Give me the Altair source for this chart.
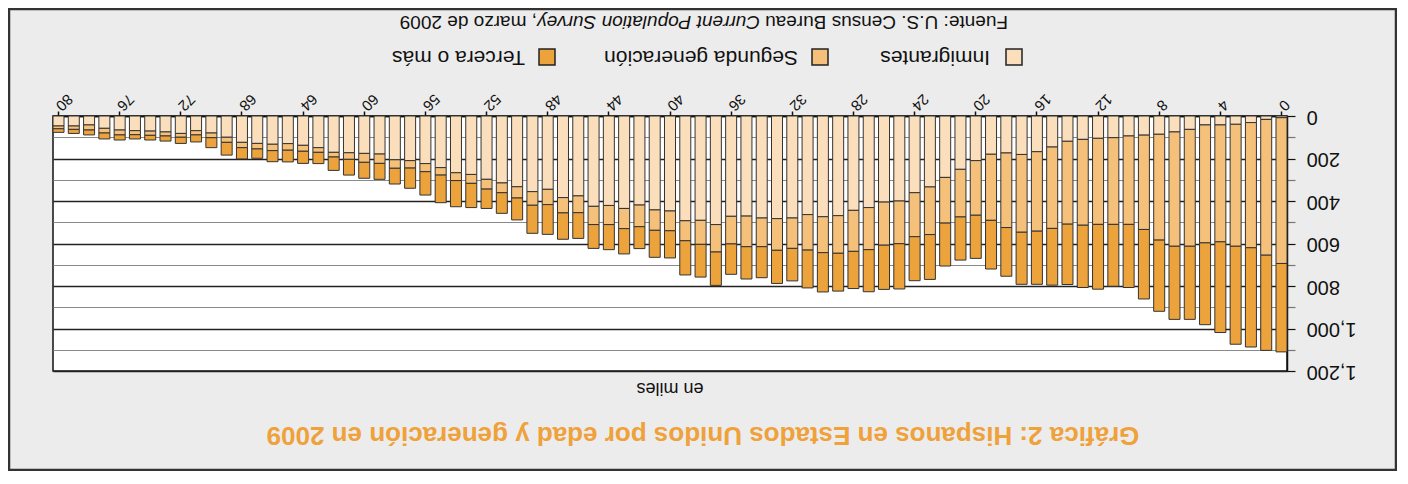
import altair as alt
import pandas as pd

# ---------------- data (thousands) ----------------
edades = list(range(0, 81))
inmigrantes = [8, 16, 31, 39, 42, 42, 63, 75, 86, 90, 94, 102, 105, 110, 119, 146, 168, 181, 174,
               180, 210, 251, 289, 334, 361, 400, 405, 431, 444, 469, 474, 464, 480, 483, 480, 471,
               472, 511, 491, 493, 447, 442, 419, 435, 421,
               425, 376, 384, 345, 356, 333, 315, 298, 275, 267, 243,
               224, 210, 206, 179, 176, 173, 171, 149, 138, 130, 133, 129, 124, 100, 80, 69, 82,
               75, 71, 69, 66, 58, 42, 47, 47]
segunda = [686, 639, 589, 574, 550, 555, 550, 538, 498, 444, 416, 408, 405, 404, 390, 383, 374, 366, 351,
           311, 257, 224, 215, 224, 207, 201, 203, 198, 193, 177, 169, 167, 143, 149, 135, 144,
           130, 129, 113, 94, 93, 96, 102, 95, 90,
           86, 79, 72, 72, 64, 53, 46, 46, 42, 37, 35,
           38, 35, 40, 44, 42, 31, 22, 22, 28, 31, 30, 26, 25, 24, 22, 20, 18,
           19, 20, 19, 23, 22, 24, 16, 13]
tercera = [416, 448, 467, 461, 427, 385, 344, 344, 335, 327, 297, 291, 305, 293, 284, 267, 250, 245, 229,
           229, 203, 203, 202, 211, 207, 213, 208, 198, 175, 178, 185, 178, 153, 156, 146, 152,
           143, 157, 154, 161, 128, 127, 103, 119, 118,
           112, 121, 124, 140, 132, 103, 97, 91, 114, 123, 130,
           110, 95, 74, 75, 75, 74, 63, 53, 57, 55, 52, 44, 53, 60, 47, 33, 29,
           24, 22, 20, 24, 28, 23, 19, 17]

grupos = ["Inmigrantes", "Segunda generación", "Tercera o más"]
colores = ["#FBDFBC", "#F5C07A", "#EDA33B"]
x_ticks = list(range(0, 81, 4))
y_ticks = list(range(0, 1201, 100))

titulo = "Gráfica 2: Hispanos en Estados Unidos por edad y generación en 2009"
unidad = "en miles"
fuente_1 = "Fuente: U.S. Census Bureau "
fuente_2 = "Current Population Survey"
fuente_3 = ", marzo de 2009"

rows = []
for serie, nombre in zip([inmigrantes, segunda, tercera], grupos):
    for e, v in zip(edades, serie):
        rows.append({"edad": e, "grupo": nombre, "valor": v, "orden": grupos.index(nombre)})
df = pd.DataFrame(rows)

FONT = "Liberation Sans"
W, H = 1234, 255

bars = alt.Chart(df).mark_bar(stroke="#333333", strokeWidth=1).encode(
    x=alt.X("edad:O", sort="descending",
            scale=alt.Scale(paddingInner=0.28, paddingOuter=0),
            axis=alt.Axis(orient="top", values=x_ticks, title=None, labelAngle=135,
                          labelAlign="right", labelBaseline="middle", labelFontSize=15,
                          labelFont=FONT, labelColor="#111", tickSize=5, tickColor="#111",
                          tickWidth=1.5, labelPadding=3, domainColor="#111", domainWidth=1.5,
                          grid=False)),
    y=alt.Y("valor:Q", stack="zero",
            scale=alt.Scale(domain=[0, 1200], reverse=True, nice=False),
            axis=alt.Axis(orient="right", values=y_ticks, title=None,
                          labelExpr="datum.value % 200 === 0 ? format(datum.value, ',') : ''",
                          labelAngle=180, labelAlign="right", labelBaseline="middle",
                          labelFontSize=20, labelFont=FONT, labelColor="#111",
                          labelPadding=11, tickSize=8, tickWidth=1.2,
                          tickColor={"condition": {"test": "datum.value % 200 === 0", "value": "#111"}, "value": "#777"},
                          grid=True,
                          gridColor={"condition": {"test": "datum.value % 200 === 0", "value": "#222"}, "value": "#8a8a8a"},
                          gridWidth={"condition": {"test": "datum.value % 200 === 0", "value": 1.6}, "value": 1.2},
                          domainColor="#111", domainWidth=1.5)),
    color=alt.Color("grupo:N", scale=alt.Scale(domain=grupos, range=colores), legend=None),
    order=alt.Order("orden:Q", sort="ascending"),
)

one = pd.DataFrame({"k": [0]})


def label(text, x, y, size, **kw):
    return alt.Chart(pd.DataFrame({"t": [text]})).mark_text(
        angle=180, font=FONT, fontSize=size, **kw
    ).encode(text="t:N", x=alt.value(x), y=alt.value(y))


layers = [bars]

# title and unit
layers.append(label(titulo, 650, 319, 26, fontWeight="bold", color="#EFA13A", align="center", baseline="middle"))
layers.append(label(unidad, 617, 272, 18, color="#111", align="center", baseline="middle"))

# source line (upside down, reads right-to-left on screen)
layers.append(label(fuente_1, 955, -94, 19, color="#111", align="left", baseline="middle"))
layers.append(label(fuente_2, 707, -94, 19, color="#111", align="left", baseline="middle", fontStyle="italic"))
layers.append(label(fuente_3, 484, -94, 19, color="#111", align="left", baseline="middle"))

# legend
leg_swatch_x = [961, 767, 494]
leg_text_x = [937, 745, 472]
for nombre, col, sx, tx in zip(grupos, colores, leg_swatch_x, leg_text_x):
    layers.append(alt.Chart(one).mark_square(size=256, fill=col, stroke="#222", strokeWidth=1.5, opacity=1)
                  .encode(x=alt.value(sx), y=alt.value(-59)))
    layers.append(label(nombre, tx, -59, 21, color="#111", align="left", baseline="middle"))

# outer frame
layers.append(alt.Chart(one).mark_rect(filled=False, stroke="#333", strokeWidth=2.5).encode(
    x=alt.value(-44), x2=alt.value(1343), y=alt.value(-107), y2=alt.value(354)))

chart = alt.layer(*layers).properties(
    width=W, height=H,
    padding={"left": 45, "top": 108, "right": 110, "bottom": 100},
    autosize="none",
    background="#ececec",
).configure_view(fill="white", stroke="#111", strokeWidth=1.5)

chart.save("out.html", embed_options={"renderer": "svg", "actions": False})
